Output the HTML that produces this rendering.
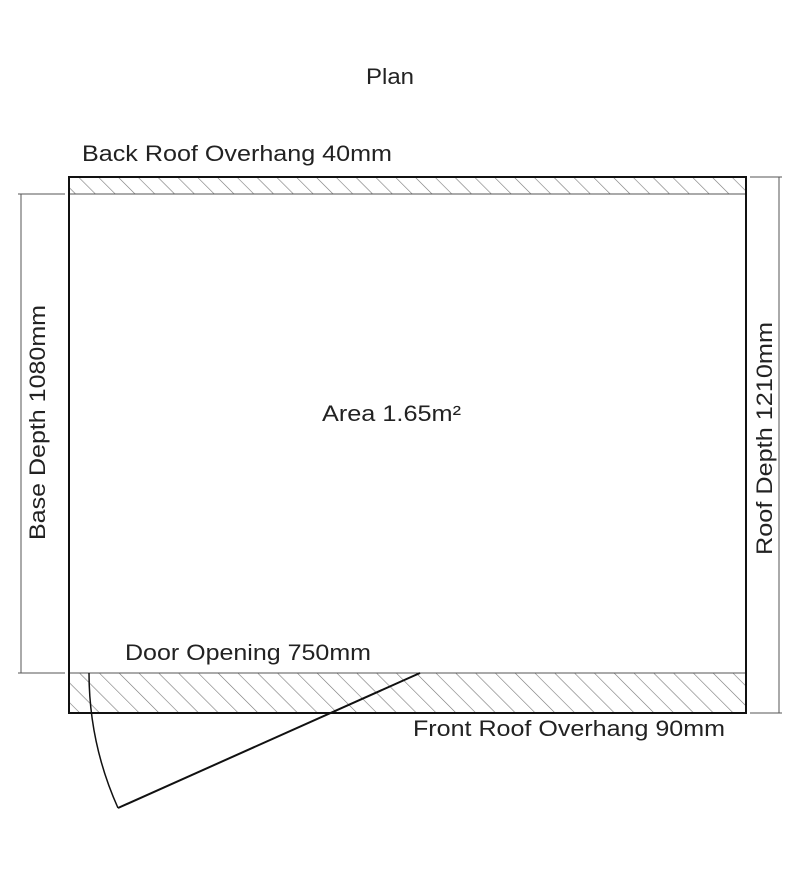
<!DOCTYPE html>
<html><head><meta charset="utf-8"><style>
html,body{margin:0;padding:0;background:#fff;}
svg{display:block;}
text{font-family:"Liberation Sans",Arial,sans-serif;font-size:22px;fill:#222;}
</style></head><body>
<svg width="800" height="884" viewBox="0 0 800 884" xmlns="http://www.w3.org/2000/svg">
<defs>
<pattern id="h" patternUnits="userSpaceOnUse" width="14" height="14" patternTransform="rotate(-45)">
<line x1="0" y1="0" x2="0" y2="14" stroke="#777" stroke-width="1.2"/>
</pattern>
</defs>
<text x="366" y="84" textLength="48" lengthAdjust="spacingAndGlyphs">Plan</text>
<text x="82" y="161" textLength="310" lengthAdjust="spacingAndGlyphs">Back Roof Overhang 40mm</text>
<rect x="69" y="177" width="677" height="17" fill="url(#h)"/>
<rect x="69" y="673" width="677" height="40" fill="url(#h)"/>
<line x1="69" y1="194" x2="746" y2="194" stroke="#555" stroke-width="1"/>
<line x1="69" y1="673" x2="746" y2="673" stroke="#555" stroke-width="1"/>
<rect x="69" y="177" width="677" height="536" fill="none" stroke="#111" stroke-width="2"/>
<line x1="21" y1="194" x2="21" y2="673" stroke="#555" stroke-width="1"/>
<line x1="18" y1="194" x2="65" y2="194" stroke="#555" stroke-width="1"/>
<line x1="18" y1="673" x2="65" y2="673" stroke="#555" stroke-width="1"/>
<text transform="translate(45,540) rotate(-90)" textLength="235" lengthAdjust="spacingAndGlyphs">Base Depth 1080mm</text>
<line x1="779" y1="177" x2="779" y2="713" stroke="#555" stroke-width="1"/>
<line x1="750" y1="177" x2="782" y2="177" stroke="#555" stroke-width="1"/>
<line x1="750" y1="713" x2="782" y2="713" stroke="#555" stroke-width="1"/>
<text transform="translate(772,555) rotate(-90)" textLength="233" lengthAdjust="spacingAndGlyphs">Roof Depth 1210mm</text>
<text x="322" y="421" textLength="139" lengthAdjust="spacingAndGlyphs">Area 1.65m²</text>
<text x="125" y="660" textLength="246" lengthAdjust="spacingAndGlyphs">Door Opening 750mm</text>
<text x="413" y="736" textLength="312" lengthAdjust="spacingAndGlyphs">Front Roof Overhang 90mm</text>
<path d="M89 673 A331 331 0 0 0 118 808" fill="none" stroke="#111" stroke-width="1.5"/>
<line x1="118" y1="808" x2="420" y2="673" stroke="#111" stroke-width="2"/>
</svg>
</body></html>
